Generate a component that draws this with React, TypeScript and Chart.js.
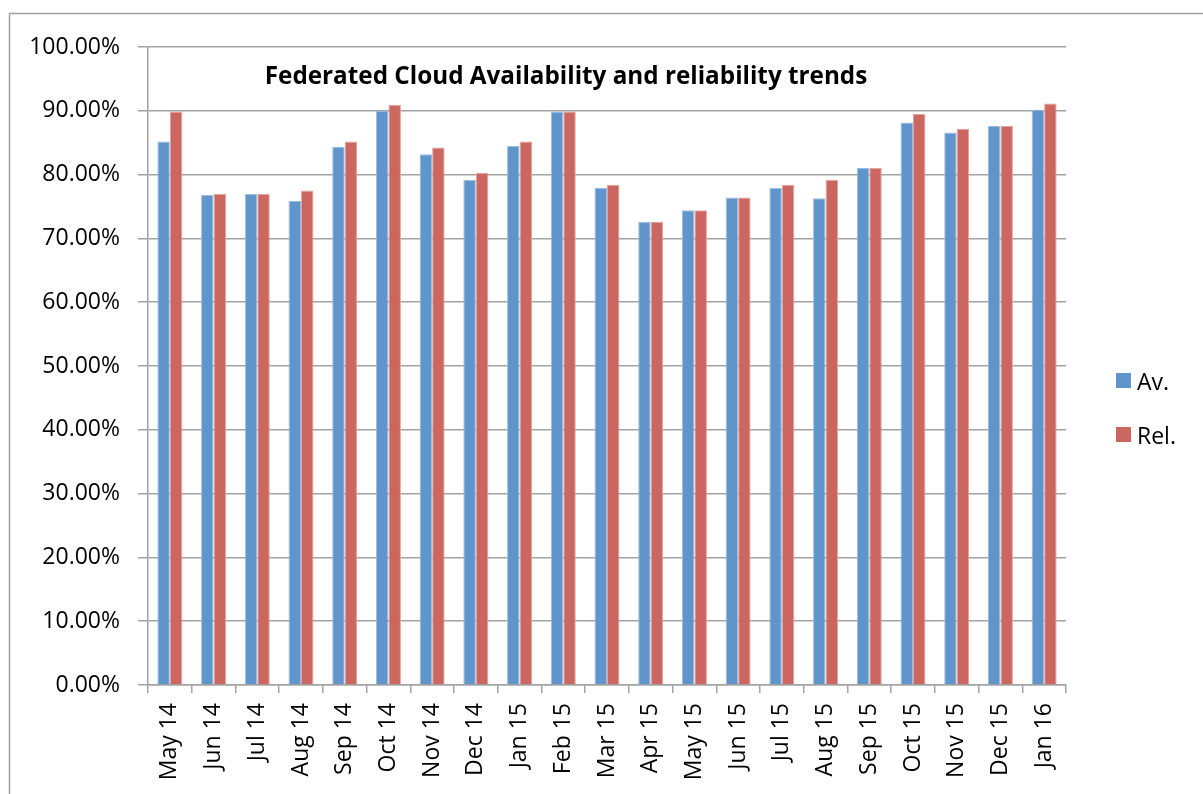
import React, { useEffect, useRef } from "react";
import { Chart, registerables } from "chart.js";

Chart.register(...registerables);

const categories = [
  "May 14", "Jun 14", "Jul 14", "Aug 14", "Sep 14", "Oct 14", "Nov 14",
  "Dec 14", "Jan 15", "Feb 15", "Mar 15", "Apr 15", "May 15", "Jun 15",
  "Jul 15", "Aug 15", "Sep 15", "Oct 15", "Nov 15", "Dec 15", "Jan 16",
];
const availability = [
  85.2, 76.85, 76.95, 75.85, 84.35, 90.0, 83.2, 79.2, 84.5, 89.9, 77.95,
  72.6, 74.4, 76.4, 77.95, 76.3, 81.05, 88.15, 86.6, 87.6, 90.15,
];
const reliability = [
  89.9, 77.0, 76.95, 77.5, 85.2, 90.95, 84.25, 80.3, 85.2, 89.9, 78.4,
  72.6, 74.4, 76.4, 78.4, 79.15, 81.05, 89.5, 87.2, 87.6, 91.15,
];
const seriesNames = ["Av.", "Rel."];
const seriesColors = ["#6095CB", "#CC6660"];
const seriesEdges = ["#9BBBE0", "#E3A39F"];
const yMin = 0;
const yMax = 100;
const yStep = 10;
const chartTitle = "Federated Cloud Availability and reliability trends";

const FONT = "'Open Sans', 'Liberation Sans', sans-serif";
const GRID = "#A3A3A3";

const decorPlugin = {
  id: "decor",
  afterDraw(chart: any) {
    const ctx = chart.ctx;
    ctx.save();
    // outer frame
    ctx.strokeStyle = "#A0A0A0";
    ctx.lineWidth = 1.5;
    ctx.strokeRect(9.5, 13.5, 1300, 900);
    // title inside plot area
    ctx.fillStyle = "#000";
    ctx.textAlign = "center";
    ctx.textBaseline = "alphabetic";
    let size = 23;
    ctx.font = `bold ${size}px ${FONT}`;
    const w = ctx.measureText(chartTitle).width;
    const target = 603;
    size = Math.min(26, size * (target / w));
    ctx.font = `bold ${size}px ${FONT}`;
    ctx.fillText(chartTitle, 566, 84);
    // legend
    ctx.textAlign = "left";
    ctx.font = `23px ${FONT}`;
    const legendY = [373, 427];
    seriesNames.forEach((name, i) => {
      ctx.fillStyle = seriesColors[i];
      ctx.fillRect(1116, legendY[i], 15, 15);
      ctx.fillStyle = "#000";
      ctx.fillText(name, 1137, legendY[i] + 17);
    });
    ctx.restore();
  },
};

export default function App() {
  const ref = useRef<HTMLCanvasElement>(null);
  useEffect(() => {
    if (!ref.current) return;
    const chart = new Chart(ref.current, {
      type: "bar",
      data: {
        labels: categories,
        datasets: [
          {
            label: seriesNames[0],
            data: availability,
            backgroundColor: seriesColors[0],
            borderColor: seriesEdges[0],
            borderWidth: 1,
            categoryPercentage: 0.572,
            barPercentage: 1.0,
          },
          {
            label: seriesNames[1],
            data: reliability,
            backgroundColor: seriesColors[1],
            borderColor: seriesEdges[1],
            borderWidth: 1,
            categoryPercentage: 0.572,
            barPercentage: 1.0,
          },
        ],
      },
      options: {
        responsive: false,
        animation: false,
        devicePixelRatio: 1,
        layout: { padding: { top: 47, right: 137, left: 0, bottom: 0 } },
        plugins: {
          legend: { display: false },
          title: { display: false },
          tooltip: { enabled: false },
        },
        scales: {
          x: {
            grid: {
              display: true,
              drawOnChartArea: false,
              drawTicks: true,
              tickLength: 8,
              color: GRID,
              lineWidth: 1.5,
              offset: true,
            },
            border: { display: true, color: GRID, width: 1.5 },
            ticks: {
              maxRotation: 90,
              minRotation: 90,
              autoSkip: false,
              padding: 10,
              color: "#000",
              font: { family: FONT, size: 23 },
            },
            afterFit(scale: any) {
              scale.height = 794 - 685;
            },
          },
          y: {
            min: yMin,
            max: yMax,
            grid: {
              color: GRID,
              lineWidth: 1.5,
              tickLength: 10,
              drawTicks: true,
            },
            border: { display: true, color: GRID, width: 1.5 },
            ticks: {
              stepSize: yStep,
              padding: 18,
              color: "#000",
              font: { family: FONT, size: 23 },
              callback: (v: any) => Number(v).toFixed(2) + "%",
            },
            afterFit(scale: any) {
              scale.width = 148;
            },
          },
        },
      },
      plugins: [decorPlugin],
    });
    return () => chart.destroy();
  }, []);
  return (
    <div style={{ position: "fixed", left: 0, top: 0, width: 1203, height: 794, background: "#fff" }}>
      <canvas ref={ref} width={1203} height={794} style={{ display: "block" }} />
    </div>
  );
}
